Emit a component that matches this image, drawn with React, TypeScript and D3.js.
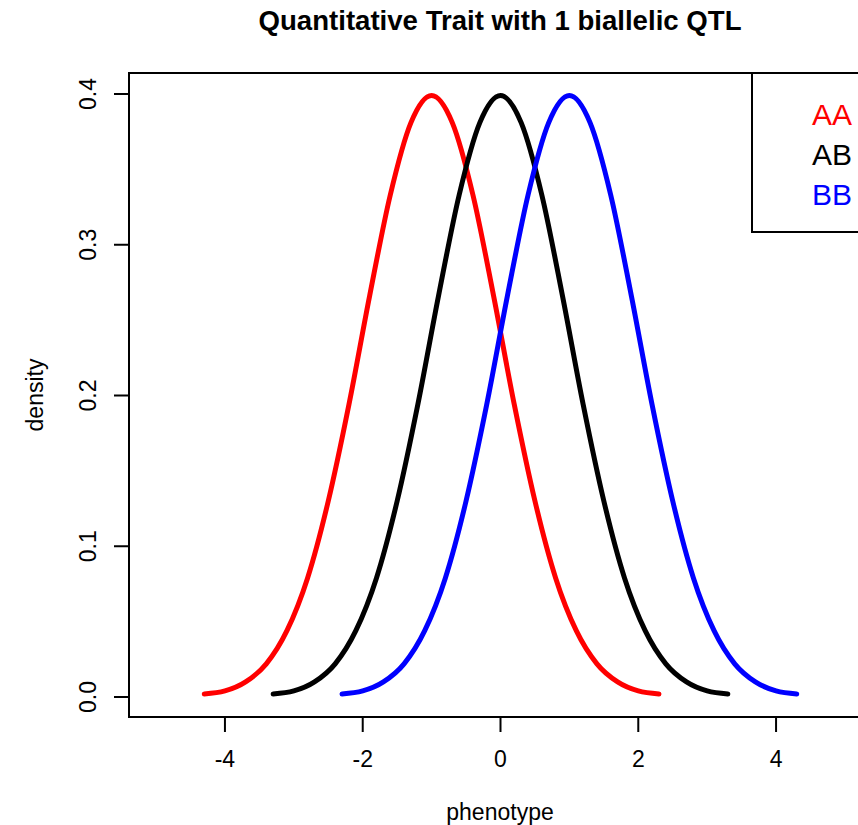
import React, { useEffect, useRef } from "react"
import * as d3 from "d3"

// phenotype grid for each genotype and the density
const aaX = [-4.3, -4.0, -3.7, -3.4, -3.1, -2.8, -2.5, -2.2, -1.9, -1.6, -1.3, -1.0, -0.7, -0.4, -0.1, 0.2, 0.5, 0.8, 1.1, 1.4, 1.7, 2.0, 2.3]
const abX = [-3.3, -3.0, -2.7, -2.4, -2.1, -1.8, -1.5, -1.2, -0.9, -0.6, -0.3, 0.0, 0.3, 0.6, 0.9, 1.2, 1.5, 1.8, 2.1, 2.4, 2.7, 3.0, 3.3]
const bbX = [-2.3, -2.0, -1.7, -1.4, -1.1, -0.8, -0.5, -0.2, 0.1, 0.4, 0.7, 1.0, 1.3, 1.6, 1.9, 2.2, 2.5, 2.8, 3.1, 3.4, 3.7, 4.0, 4.3]
const aaY = [0.002, 0.004, 0.010, 0.022, 0.044, 0.079, 0.130, 0.194, 0.266, 0.333, 0.381, 0.399, 0.381, 0.333, 0.266, 0.194, 0.130, 0.079, 0.044, 0.022, 0.010, 0.004, 0.002]
const abY = [0.002, 0.004, 0.010, 0.022, 0.044, 0.079, 0.130, 0.194, 0.266, 0.333, 0.381, 0.399, 0.381, 0.333, 0.266, 0.194, 0.130, 0.079, 0.044, 0.022, 0.010, 0.004, 0.002]
const bbY = [0.002, 0.004, 0.010, 0.022, 0.044, 0.079, 0.130, 0.194, 0.266, 0.333, 0.381, 0.399, 0.381, 0.333, 0.266, 0.194, 0.130, 0.079, 0.044, 0.022, 0.010, 0.004, 0.002]

const genotypes = ["AA", "AB", "BB"]
const colors = ["#ff0000", "#000000", "#0000ff"]
const xTicks = [-4, -2, 0, 2, 4]
const yTicks = [0, 0.1, 0.2, 0.3, 0.4]

const W = 858
const H = 825
const FONT = "'Liberation Sans', Arial, sans-serif"

const App = () => {
  const ref = useRef<SVGSVGElement>(null)

  useEffect(() => {
    const svg = d3.select(ref.current)
    svg.selectAll("*").remove()

    const left = 129
    const top = 73
    const bottom = 717

    const x = d3.scaleLinear().domain([-5.4, 5.4]).range([128.5, 872.5])
    const y = d3.scaleLinear().domain([0, 0.4]).range([697, 94])

    svg.append("rect").attr("width", W).attr("height", H).attr("fill", "white")

    // title
    svg
      .append("text")
      .attr("x", 500)
      .attr("y", 30)
      .attr("text-anchor", "middle")
      .style("font-family", FONT)
      .style("font-weight", "bold")
      .style("font-size", "27.6px")
      .text("Quantitative Trait with 1 biallelic QTL")

    // curves
    const series = [
      { xs: aaX, ys: aaY },
      { xs: abX, ys: abY },
      { xs: bbX, ys: bbY },
    ]
    const line = d3
      .line<[number, number]>()
      .x((d) => x(d[0]))
      .y((d) => y(d[1]))
      .curve(d3.curveMonotoneX)

    series.forEach((s, i) => {
      const pts = s.xs.map((v, j) => [v, s.ys[j]] as [number, number])
      svg
        .append("path")
        .attr("d", line(pts))
        .attr("fill", "none")
        .attr("stroke", colors[i])
        .attr("stroke-width", 5)
        .attr("stroke-linecap", "round")
        .attr("stroke-linejoin", "round")
    })

    // plot box
    svg
      .append("rect")
      .attr("x", left)
      .attr("y", top)
      .attr("width", 900)
      .attr("height", bottom - top)
      .attr("fill", "none")
      .attr("stroke", "black")
      .attr("stroke-width", 2)

    // x axis
    const gx = svg.append("g")
    gx.selectAll("line")
      .data(xTicks)
      .join("line")
      .attr("x1", (d) => x(d))
      .attr("x2", (d) => x(d))
      .attr("y1", bottom)
      .attr("y2", bottom + 15)
      .attr("stroke", "black")
      .attr("stroke-width", 2)
    gx.selectAll("text")
      .data(xTicks)
      .join("text")
      .attr("x", (d) => x(d))
      .attr("y", 767)
      .attr("text-anchor", "middle")
      .style("font-family", FONT)
      .style("font-size", "23px")
      .text((d) => String(d))

    // y axis
    const gy = svg.append("g")
    gy.selectAll("line")
      .data(yTicks)
      .join("line")
      .attr("x1", left - 15)
      .attr("x2", left)
      .attr("y1", (d) => y(d))
      .attr("y2", (d) => y(d))
      .attr("stroke", "black")
      .attr("stroke-width", 2)
    gy.selectAll("text")
      .data(yTicks)
      .join("text")
      .attr("transform", (d) => `translate(96, ${y(d)}) rotate(-90)`)
      .attr("text-anchor", "middle")
      .style("font-family", FONT)
      .style("font-size", "23px")
      .text((d) => d.toFixed(1))

    // axis titles
    svg
      .append("text")
      .attr("x", 500)
      .attr("y", 820)
      .attr("text-anchor", "middle")
      .style("font-family", FONT)
      .style("font-size", "23px")
      .text("phenotype")
    svg
      .append("text")
      .attr("transform", `translate(43, ${(top + bottom) / 2}) rotate(-90)`)
      .attr("text-anchor", "middle")
      .style("font-family", FONT)
      .style("font-size", "23px")
      .text("density")

    // legend
    svg
      .append("rect")
      .attr("x", 752)
      .attr("y", top)
      .attr("width", 200)
      .attr("height", 159)
      .attr("fill", "white")
      .attr("stroke", "black")
      .attr("stroke-width", 2)
    svg
      .append("g")
      .selectAll("text")
      .data(genotypes)
      .join("text")
      .attr("x", 812)
      .attr("y", (d, i) => 125 + i * 40)
      .attr("fill", (d, i) => colors[i])
      .style("font-family", FONT)
      .style("font-size", "30px")
      .text((d) => d)
  }, [])

  return (
    <svg
      ref={ref}
      width={W}
      height={H}
      style={{ position: "absolute", left: 0, top: 0, display: "block" }}
    ></svg>
  )
}

export default App
